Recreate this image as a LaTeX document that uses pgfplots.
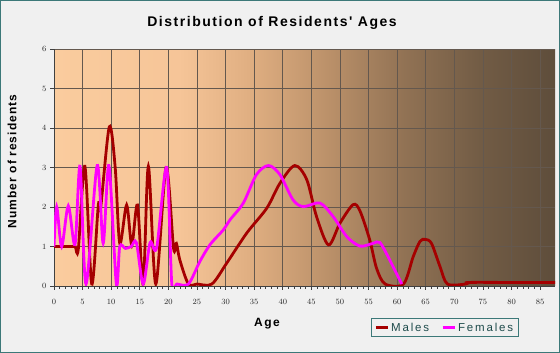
\documentclass[border=0pt]{standalone}
\usepackage{fontspec}
\setmainfont{Liberation Sans}
\newfontfamily\titlefont[LetterSpace=11]{Liberation Sans}
\newfontfamily\labelfont[LetterSpace=9]{Liberation Sans}
\newfontfamily\agefont[LetterSpace=12]{Liberation Sans}
\newfontfamily\legfont[LetterSpace=16]{Liberation Sans}
\usepackage{pgfplots}
\pgfplotsset{compat=1.18}
\definecolor{male}{RGB}{165,0,0}
\definecolor{female}{RGB}{255,0,255}
\definecolor{bgout}{RGB}{240,240,240}
\definecolor{framec}{RGB}{60,120,120}
\definecolor{legtext}{RGB}{30,75,75}
\definecolor{gridc}{RGB}{100,88,78}
\definecolor{c0}{RGB}{250,204,158}
\definecolor{c1}{RGB}{246,197,152}
\definecolor{c2}{RGB}{222,173,128}
\definecolor{c3}{RGB}{186,144,105}
\definecolor{c4}{RGB}{145,114,84}
\definecolor{c5}{RGB}{114,92,69}
\definecolor{c6}{RGB}{94,77,59}
\pgfdeclarehorizontalshading{agebg}{100bp}{color(0bp)=(c0); color(25bp)=(c0); color(37.5bp)=(c1); color(45bp)=(c2); color(52.5bp)=(c3); color(60bp)=(c4); color(67.5bp)=(c5); color(75bp)=(c6); color(100bp)=(c6)}
\begin{document}
\begin{tikzpicture}
\path[use as bounding box] (0pt,0pt) rectangle (560pt,353pt);
\fill[bgout] (0pt,0pt) rectangle (560pt,353pt);
\draw[framec, line width=1pt] (0.5pt,0.5pt) rectangle (559.5pt,352.5pt);
\begin{axis}[
  at={(54pt,67pt)}, anchor=south west,
  scale only axis, width=501pt, height=237pt,
  xmin=0, xmax=87.6, ymin=0, ymax=6,
  axis background/.style={shading=agebg},
  xtick={0,5,...,85}, minor x tick num=4,
  ytick={0,1,...,6},
  grid=major,
  major grid style={gridc, line width=0.8pt},
  axis x line*=bottom, axis y line*=left,
  axis line style={-, draw=black!75, line width=0.6pt},
  tick align=outside,
  major tick length=4pt, minor tick length=3pt,
  every tick/.style={black!75, line width=0.6pt},
  x tick label style={yshift=-6pt},
  ticklabel style={font=\fontsize{8.5}{9}\selectfont, text=black!85},
  clip=true,
  legend columns=2,
  legend style={at={(0.78,-0.176)}, anchor=center, draw=framec, line width=0.8pt, fill=none,
    font=\legfont\fontsize{11.5}{12}\selectfont, text=legtext, inner xsep=3pt, inner ysep=2pt,
    /tikz/every even column/.append style={column sep=10pt}},
  legend image code/.code={\draw[#1, line width=2.8pt] (0pt,0pt) -- (12pt,0pt);},
]
\addplot[male, line width=2.8pt, smooth] coordinates {
(0,1) (1,1) (2,1) (3,1) (3.7,1) (4.25,0.93) (5.4,3.03) (6.6,0.05) (7.75,2.05) (8.15,1.97)
(9.67,4.03) (10.7,3.0) (11.5,1.08) (12.7,2.05) (13.6,1.04) (14.6,2.05) (15.6,0.05)
(16.5,3.03) (17.8,0.05) (19.6,3.0) (20.9,0.96) (21.4,1.08) (22.0,0.66) (23.5,0.05)
(25,0.05) (27.6,0.05) (30.2,0.58) (33.7,1.34) (37.2,1.97) (39.5,2.6) (42.1,3.05)
(44.2,2.69) (45.9,1.76) (48,1.04) (50,1.59) (52.3,2.06) (53.5,1.9) (55.2,1.17)
(56.4,0.45) (57.9,0.05) (61.1,0.05) (62.8,0.74) (64,1.13) (64.9,1.18) (66,1.08)
(67.5,0.49) (68.8,0.05) (72,0.05) (72.5,0.09) (80,0.09) (87.6,0.09)
};
\addlegendentry{Males}
\addplot[female, line width=2.8pt, smooth] coordinates {
(0,1) (0.47,2) (1.34,1) (2.5,2.03) (3.67,1.05) (4.55,3.03) (5.6,0.05) (7.55,3.05)
(8.6,1.08) (9.6,3.05) (10.9,0.05) (11.5,1.0) (12.5,0.95) (13.5,1.0) (14.4,1.1)
(15.6,0.05) (16.8,1.1) (17.95,0.97) (19.7,3.0) (20.6,0.05) (21.5,0.05) (23.5,0.05)
(25.5,0.62) (27.3,1.05) (29.6,1.42) (30.8,1.68) (33.1,2.1) (35.4,2.82) (37.5,3.05)
(39.5,2.82) (41.8,2.18) (43.6,2.01) (46.5,2.1) (48.8,1.76) (51.2,1.25) (53.5,1.01)
(55.8,1.08) (57.0,1.1) (58.7,0.66) (60.8,0.05)
};
\addlegendentry{Females}
\end{axis}
\node[font=\titlefont\bfseries\fontsize{14}{16}\selectfont] at (272pt,330pt) {Distribution of Residents' Ages};
\node[font=\labelfont\bfseries\fontsize{12}{14}\selectfont, rotate=90] at (12pt,191.5pt) {Number of residents};
\node[font=\agefont\bfseries\fontsize{12}{14}\selectfont] at (267pt,29pt) {Age};
\end{tikzpicture}
\end{document}
